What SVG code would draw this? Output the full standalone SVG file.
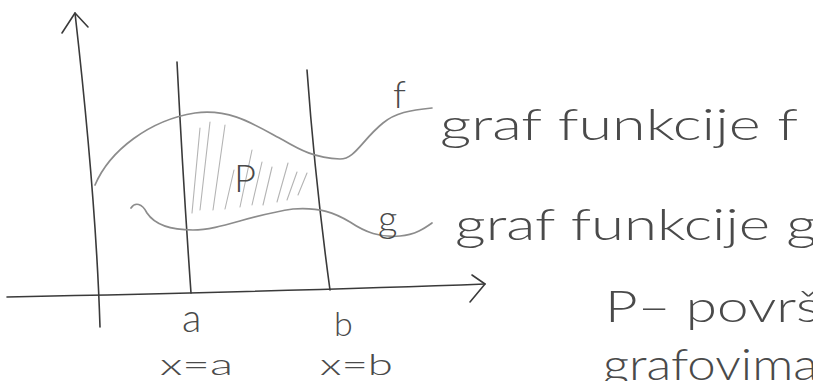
<svg xmlns="http://www.w3.org/2000/svg" width="813" height="381" viewBox="0 0 813 381">
<style>
.ax{fill:none;stroke:#3a3a3a;stroke-width:1.6;stroke-linecap:round;stroke-linejoin:round}
.cv{fill:none;stroke:#8c8c8c;stroke-width:1.7;stroke-linecap:round}
.ht{fill:none;stroke:#b4b4b4;stroke-width:1.1;stroke-linecap:round}
.hw{font-family:"Lato","Open Sans","DejaVu Sans",sans-serif;font-weight:300;fill:#4a4a4a}
</style>
<rect width="813" height="381" fill="#ffffff"/>
<g id="hatching">
<path class="ht" d="M192,213 L200,128"/>
<path class="ht" d="M200,210 L210,122"/>
<path class="ht" d="M213,210 L225,125"/>
<path class="ht" d="M225,209 L234,170"/>
<path class="ht" d="M240,207 L252,150"/>
<path class="ht" d="M252,205 L262,162"/>
<path class="ht" d="M263,205 L272,167"/>
<path class="ht" d="M277,202 L288,163"/>
<path class="ht" d="M287,200 L297,172"/>
<path class="ht" d="M298,195 L307,173"/>
</g>
<g id="axes">
<path class="ax" d="M100,327 C97,230 86,110 75,13"/>
<path class="ax" d="M62,33 L75,13 L88,27"/>
<path class="ax" d="M7,297 C150,294 330,290 485,284"/>
<path class="ax" d="M472,275 L485,284 L470,302"/>
</g>
<g id="line-a">
<path class="ax" d="M177,62 Q183,180 191,293"/>
</g>
<g id="line-b">
<path class="ax" d="M307,70 Q315,180 330,290"/>
</g>
<g id="curve-f">
<path class="cv" d="M95,185 C110,150 150,120 195,113 C230,108 255,125 283,140 C300,150 315,158 340,159 C355,159 362,140 383,123 C395,113 410,110 432,108"/>
</g>
<g id="curve-g">
<path class="cv" d="M131,208 C135,202 142,203 147,213 C155,225 170,230 193,230 C220,230 250,215 293,209 C320,207 335,213 350,222 C365,232 380,238 400,236 C415,235 425,228 432,223"/>
</g>
<g id="labels">
<text class="hw" x="234" y="192" font-size="38">P</text>
<text class="hw" x="393" y="108" font-size="38">f</text>
<text class="hw" x="378" y="232" font-size="38">g</text>
<text class="hw" x="182" y="332" font-size="40">a</text>
<text class="hw" x="334" y="336" font-size="34">b</text>
<text class="hw" x="160" y="375" font-size="30" textLength="73" lengthAdjust="spacingAndGlyphs">x=a</text>
<text class="hw" x="320" y="375" font-size="30" textLength="73" lengthAdjust="spacingAndGlyphs">x=b</text>
</g>
<g id="legend">
<text class="hw" x="440" y="140" font-size="44" textLength="358" lengthAdjust="spacingAndGlyphs">graf funkcije f</text>
<text class="hw" x="455" y="240" font-size="44" textLength="362" lengthAdjust="spacingAndGlyphs">graf funkcije g</text>
<text class="hw" x="605" y="322" font-size="44" textLength="215" lengthAdjust="spacingAndGlyphs">P– površ</text>
<text class="hw" x="603" y="380" font-size="44" textLength="215" lengthAdjust="spacingAndGlyphs">grafovima</text>
</g>
</svg>
